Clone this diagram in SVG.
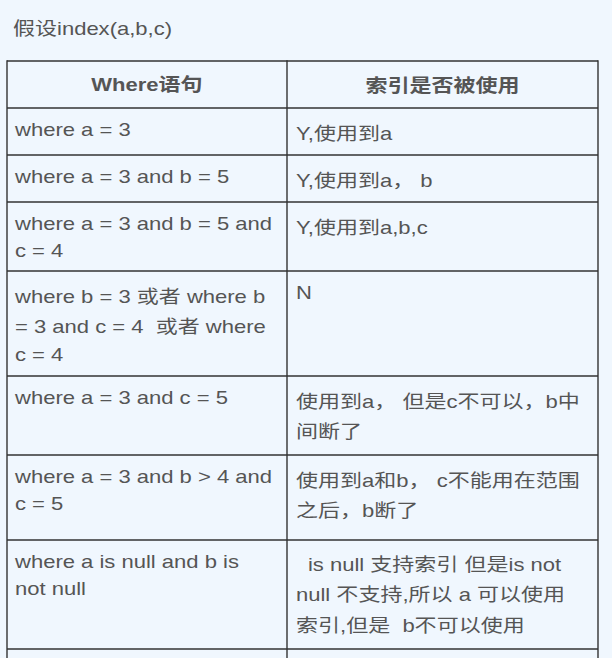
<svg xmlns="http://www.w3.org/2000/svg" width="612" height="658" viewBox="0 0 612 658">
<style>
  .t { font-family: "Liberation Sans", "Noto Sans CJK SC", sans-serif; font-size: 18.5px; fill: #555555; }
  .h { font-weight: bold; text-anchor: middle; }
  .grid line { stroke: #333333; stroke-width: 1.4; }
</style>
<rect x="0" y="0" width="612" height="658" fill="#f0f7fe"/>
<g id="grid" class="grid">
  <line x1="7" y1="61" x2="598" y2="61"/>
  <line x1="7" y1="108" x2="598" y2="108"/>
  <line x1="7" y1="155" x2="598" y2="155"/>
  <line x1="7" y1="202" x2="598" y2="202"/>
  <line x1="7" y1="271" x2="598" y2="271"/>
  <line x1="7" y1="376" x2="598" y2="376"/>
  <line x1="7" y1="455" x2="598" y2="455"/>
  <line x1="7" y1="540" x2="598" y2="540"/>
  <line x1="7" y1="649" x2="598" y2="649"/>
  <line x1="7" y1="60.3" x2="7" y2="658"/>
  <line x1="287" y1="60.3" x2="287" y2="658"/>
  <line x1="598" y1="60.3" x2="598" y2="658"/>
</g>
<g transform="scale(1.19 1)">
  <g id="title">
    <text class="t" x="10.92" y="35">假设index(a,b,c)</text>
  </g>
  <g id="header">
    <text class="t h" x="123.5" y="91.5">Where语句</text>
    <text class="t h" x="371.85" y="92">索引是否被使用</text>
  </g>
  <g id="row1">
    <text class="t" x="12.61" y="136.5">where a = 3</text>
    <text class="t" x="248.74" y="140.5">Y,使用到a</text>
  </g>
  <g id="row2">
    <text class="t" x="12.61" y="183.5">where a = 3 and b = 5</text>
    <text class="t" x="248.74" y="187.5" xml:space="preserve">Y,使用到a， b</text>
  </g>
  <g id="row3">
    <text class="t" x="12.61" y="230.5">where a = 3 and b = 5 and</text>
    <text class="t" x="12.61" y="257">c = 4</text>
    <text class="t" x="248.74" y="234.5">Y,使用到a,b,c</text>
  </g>
  <g id="row4">
    <text class="t" x="12.61" y="303.5">where b = 3 或者 where b</text>
    <text class="t" x="12.61" y="333.5" xml:space="preserve">= 3 and c = 4  或者 where</text>
    <text class="t" x="12.61" y="361">c = 4</text>
    <text class="t" x="248.74" y="299.5">N</text>
  </g>
  <g id="row5">
    <text class="t" x="12.61" y="404.5">where a = 3 and c = 5</text>
    <text class="t" x="248.74" y="408.5" xml:space="preserve">使用到a， 但是c不可以，b中</text>
    <text class="t" x="248.74" y="438.5">间断了</text>
  </g>
  <g id="row6">
    <text class="t" x="12.61" y="483.5">where a = 3 and b &gt; 4 and</text>
    <text class="t" x="12.61" y="510">c = 5</text>
    <text class="t" x="248.74" y="487" xml:space="preserve">使用到a和b， c不能用在范围</text>
    <text class="t" x="248.74" y="517.5">之后，b断了</text>
  </g>
  <g id="row7">
    <text class="t" x="12.61" y="568.5">where a is null and b is</text>
    <text class="t" x="12.61" y="595">not null</text>
    <text class="t" x="258.8" y="571">is null 支持索引 但是is not</text>
    <text class="t" x="248.74" y="601.5">null 不支持,所以 a 可以使用</text>
    <text class="t" x="248.74" y="632" xml:space="preserve">索引,但是  b不可以使用</text>
  </g>
</g>
</svg>
